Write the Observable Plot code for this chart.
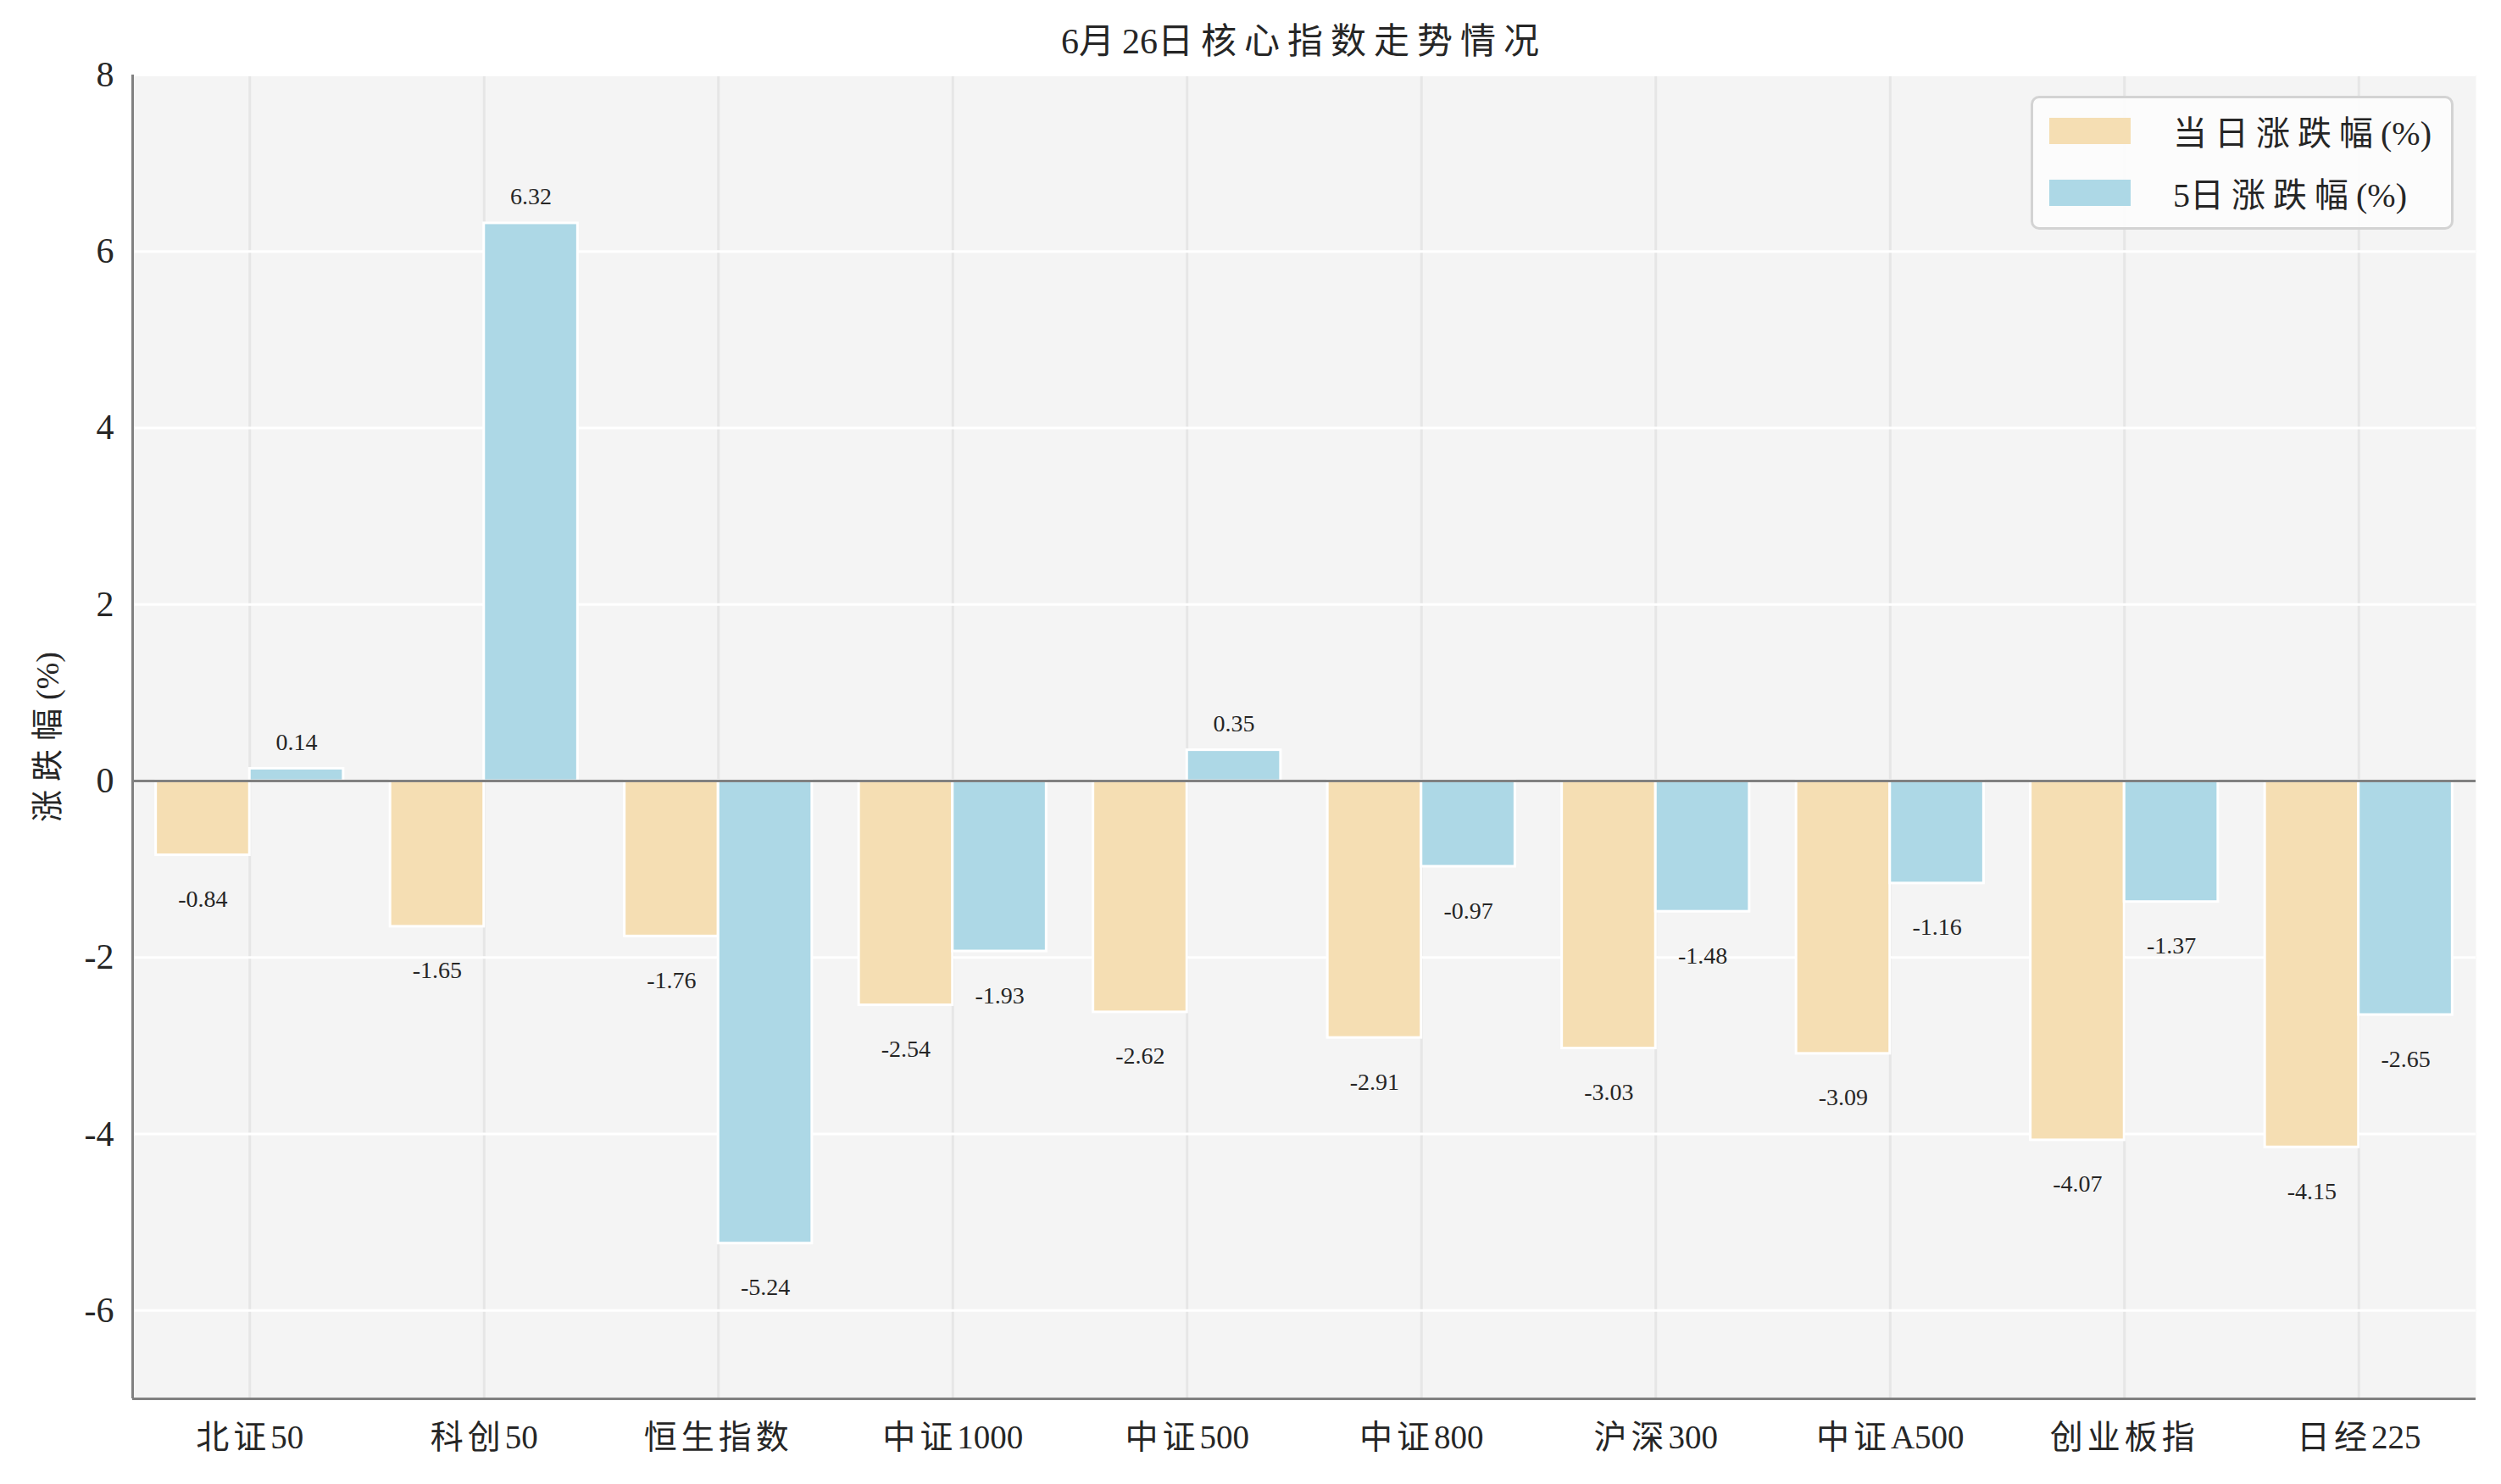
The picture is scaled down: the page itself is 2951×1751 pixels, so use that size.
<!DOCTYPE html>
<html>
<head>
<meta charset="utf-8">
<script src="https://cdn.jsdelivr.net/npm/d3@7"></script>
<script src="https://cdn.jsdelivr.net/npm/@observablehq/plot@0.6"></script>
<style>
  html, body { margin: 0; padding: 0; background: #ffffff; }
  #wrap { position: relative; width: 2951px; height: 1751px; font-family: "Liberation Serif", "Noto Sans CJK SC", serif; color: #262626; }
  #title { position: absolute; left: 156px; width: 2765px; top: 22px; text-align: center; font-size: 42px; line-height: 54px; }
  #title .cjk { letter-spacing: 9px; }
  #legend { position: absolute; left: 2396px; top: 113px; width: 493px; height: 152px; border: 3px solid #d3d3d3; border-radius: 10px; background: rgba(253,253,253,0.9); box-sizing: content-box; }
  .lg-item { position: absolute; left: 19px; height: 40px; display: flex; align-items: center; }
  .lg-swatch { width: 96px; height: 31px; margin-right: 50px; }
  .lg-text { font-size: 40px; white-space: nowrap; }
  .lg-text .cjk { letter-spacing: 9px; }
</style>
</head>
<body>
<div id="wrap">
  <div id="chart"></div>
  <div id="title"></div>
  <div id="legend"></div>
</div>
<script>
const titleText = "6月26日核心指数走势情况";
const categories = ["北证50", "科创50", "恒生指数", "中证1000", "中证500", "中证800", "沪深300", "中证A500", "创业板指", "日经225"];
const dailyChange = [-0.84, -1.65, -1.76, -2.54, -2.62, -2.91, -3.03, -3.09, -4.07, -4.15];
const fiveDayChange = [0.14, 6.32, -5.24, -1.93, 0.35, -0.97, -1.48, -1.16, -1.37, -2.65];
const seriesNames = ["当日涨跌幅(%)", "5日涨跌幅(%)"];
const seriesColors = ["#f5deb3", "#add8e6"];
const yTicks = [-6, -4, -2, 0, 2, 4, 6, 8];
const yDomain = [-7, 8];
const yLabel = "涨跌幅(%)";

const barWidth = 0.4;
const xDomain = [-0.5, categories.length - 0.5];
const idx = d3.range(categories.length);

const rows = categories.flatMap((c, i) => [
  {i, cat: c, series: seriesNames[0], v: dailyChange[i], x1: i - barWidth, x2: i},
  {i, cat: c, series: seriesNames[1], v: fiveDayChange[i], x1: i, x2: i + barWidth}
]);

const fontFamily = '"Liberation Serif", "Noto Sans CJK SC", serif';
const segRe = /[\u3000-\u9fff]+|[^\u3000-\u9fff]+/g;
const isCJK = s => /[\u3000-\u9fff]/.test(s);

const chart = Plot.plot({
  width: 2951,
  height: 1751,
  marginTop: 88,
  marginBottom: 101,
  marginLeft: 156,
  marginRight: 30,
  style: {fontFamily, fontSize: "28px", color: "#262626", background: "transparent"},
  x: {type: "linear", domain: xDomain},
  y: {domain: yDomain},
  color: {domain: seriesNames, range: seriesColors},
  marks: [
    Plot.frame({fill: "#f4f4f4", stroke: "none"}),
    Plot.gridX(idx, {stroke: "#e6e6e6", strokeOpacity: 1, strokeWidth: 3}),
    Plot.gridY(yTicks, {stroke: "#ffffff", strokeOpacity: 1, strokeWidth: 3}),
    Plot.rect(rows, {x1: "x1", x2: "x2", y1: 0, y2: "v", fill: "series", stroke: "#ffffff", strokeWidth: 3}),
    Plot.ruleY([0], {stroke: "#808080", strokeWidth: 3}),
    Plot.text(rows, {
      x: d => (d.x1 + d.x2) / 2,
      y: d => d.v >= 0 ? d.v + 0.3 : d.v - 0.5,
      text: d => d.v.toFixed(2),
      fontSize: 28,
      fill: "#262626"
    }),
    Plot.ruleX([xDomain[0]], {stroke: "#808080", strokeWidth: 3}),
    Plot.ruleY([yDomain[0]], {stroke: "#808080", strokeWidth: 3}),
    Plot.axisY(yTicks, {tickSize: 0, tickPadding: 22, fontSize: 42, label: null, tickFormat: d => String(d)}),
    Plot.axisX(idx, {tickSize: 0, tickPadding: 31, fontSize: 39, label: null, tickFormat: i => categories[i]}),
    Plot.text([yLabel], {frameAnchor: "left", textAnchor: "middle", rotate: -90, dx: -100, fontSize: 38, fill: "#262626"})
  ]
});

// spread CJK glyphs (as in the reference's typeface) while keeping digits tight
function spreadText(nodes, spacing) {
  nodes.each(function() {
    const t = d3.select(this);
    const s = t.text();
    t.text(null);
    (s.match(segRe) || []).forEach(seg => {
      const ts = t.append("tspan").text(seg);
      if (isCJK(seg)) ts.attr("letter-spacing", spacing).style("letter-spacing", spacing + "px");
    });
  });
}
const allText = d3.select(chart).selectAll("text");
spreadText(allText.filter(function() { return categories.includes(this.textContent); }), 5);
spreadText(allText.filter(function() { return this.textContent === yLabel; }), 10);

document.getElementById("chart").appendChild(chart);

function fillHtml(el, s) {
  (s.match(segRe) || []).forEach(seg => {
    const sp = document.createElement("span");
    if (isCJK(seg)) sp.className = "cjk";
    sp.textContent = seg;
    el.appendChild(sp);
  });
}
fillHtml(document.getElementById("title"), titleText);

const legend = document.getElementById("legend");
seriesNames.forEach((name, k) => {
  const item = document.createElement("div");
  item.className = "lg-item";
  item.style.top = (18 + k * 73) + "px";
  const sw = document.createElement("div");
  sw.className = "lg-swatch";
  sw.style.background = seriesColors[k];
  const tx = document.createElement("div");
  tx.className = "lg-text";
  fillHtml(tx, name);
  item.appendChild(sw);
  item.appendChild(tx);
  legend.appendChild(item);
});
</script>
</body>
</html>
